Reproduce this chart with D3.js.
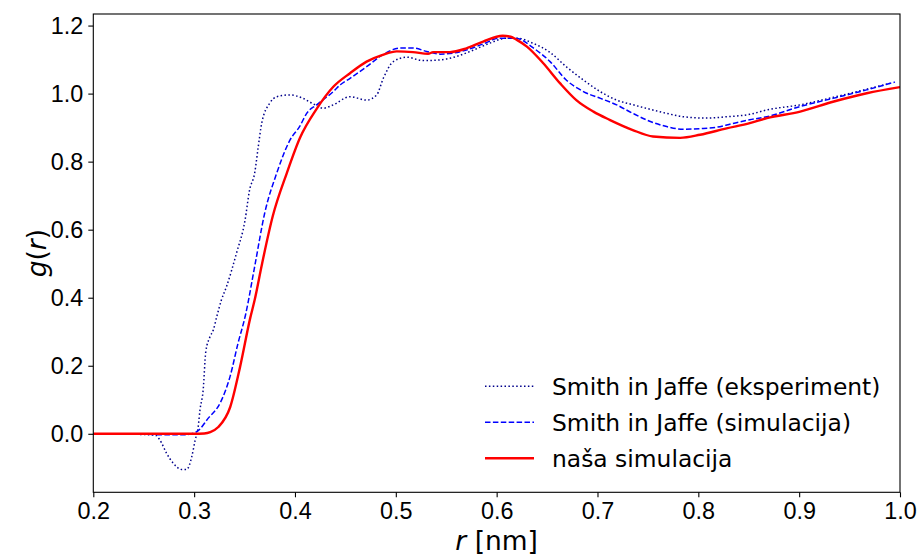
<!DOCTYPE html>
<html>
<head>
<meta charset="utf-8">
<script src="https://cdn.jsdelivr.net/npm/d3@7"></script>
<style>
  body { margin: 0; background: #fff; }
  svg { display: block; font-family: "DejaVu Sans", sans-serif; }
</style>
</head>
<body>
<div id="chart"></div>
<script>
// g(r) data
const xTicks = [0.2, 0.3, 0.4, 0.5, 0.6, 0.7, 0.8, 0.9, 1.0];
const yTicks = [0.0, 0.2, 0.4, 0.6, 0.8, 1.0, 1.2];

// Smith in Jaffe (eksperiment)
const expR = [0.2, 0.25, 0.262, 0.266, 0.2728, 0.2794, 0.2877, 0.2926, 0.2976, 0.301, 0.304, 0.3058, 0.309, 0.3115,
  0.3157, 0.319, 0.3224, 0.327, 0.332, 0.342, 0.3505, 0.355, 0.36, 0.3636, 0.367, 0.375, 0.382, 0.395, 0.408, 0.418,
  0.428, 0.438, 0.4546, 0.471, 0.481, 0.4876, 0.4975, 0.511, 0.527, 0.544, 0.56, 0.577, 0.593, 0.61, 0.62, 0.636,
  0.653, 0.669, 0.686, 0.7026, 0.719, 0.7355, 0.752, 0.7686, 0.785, 0.808, 0.828, 0.851, 0.868, 0.901, 0.9338, 0.967, 0.99];
const expG = [0, -0.002, -0.005, -0.018, -0.058, -0.087, -0.105, -0.105, -0.068, -0.019, 0.02, 0.07, 0.13, 0.24,
  0.285, 0.305, 0.344, 0.393, 0.432, 0.531, 0.628, 0.717, 0.766, 0.844, 0.913, 0.972, 0.991, 0.996, 0.986, 0.97,
  0.957, 0.967, 0.991, 0.981, 0.996, 1.045, 1.094, 1.107, 1.097, 1.099, 1.109, 1.128, 1.148, 1.163, 1.163, 1.148,
  1.121, 1.079, 1.04, 1.006, 0.981, 0.967, 0.954, 0.942, 0.932, 0.928, 0.932, 0.939, 0.952, 0.967, 0.989, 1.013, 1.03];

// Smith in Jaffe (simulacija)
const simR = [0.2, 0.24, 0.27, 0.29, 0.3025, 0.314, 0.3257, 0.3356, 0.3435, 0.351, 0.36, 0.37, 0.382, 0.395, 0.405,
  0.4116, 0.4215, 0.428, 0.438, 0.445, 0.4546, 0.471, 0.487, 0.504, 0.517, 0.5306, 0.544, 0.557, 0.57, 0.5866,
  0.603, 0.62, 0.636, 0.653, 0.669, 0.686, 0.703, 0.719, 0.735, 0.7524, 0.7686, 0.785, 0.8017, 0.818, 0.834,
  0.851, 0.868, 0.901, 0.9335, 0.967, 0.995];
const simG = [0, 0, -0.003, -0.003, 0.006, 0.046, 0.09, 0.168, 0.266, 0.35, 0.491, 0.649, 0.767, 0.863, 0.905,
  0.942, 0.967, 0.982, 1.006, 1.026, 1.045, 1.079, 1.114, 1.134, 1.134, 1.124, 1.116, 1.119, 1.128, 1.146,
  1.163, 1.162, 1.135, 1.094, 1.04, 1.006, 0.986, 0.967, 0.942, 0.918, 0.903, 0.895, 0.897, 0.901, 0.912,
  0.923, 0.932, 0.962, 0.986, 1.011, 1.034];

// naša simulacija
const nasR = [0.2, 0.25, 0.3, 0.31, 0.316, 0.324, 0.3357, 0.3455, 0.3556, 0.36, 0.367, 0.378, 0.392, 0.405, 0.4215,
  0.438, 0.4546, 0.471, 0.487, 0.501, 0.517, 0.532, 0.537, 0.5537, 0.57, 0.5866, 0.606, 0.613, 0.62, 0.63, 0.646,
  0.663, 0.679, 0.696, 0.712, 0.735, 0.755, 0.782, 0.8017, 0.828, 0.851, 0.868, 0.901, 0.9335, 0.967, 1.0];
const nasG = [0, 0, 0, 0.001, 0.005, 0.02, 0.078, 0.196, 0.34, 0.393, 0.495, 0.64, 0.767, 0.87, 0.955,
  1.02, 1.06, 1.094, 1.114, 1.124, 1.122, 1.117, 1.122, 1.122, 1.133, 1.153, 1.17, 1.168, 1.158, 1.138, 1.09,
  1.03, 0.981, 0.947, 0.923, 0.893, 0.874, 0.87, 0.879, 0.898, 0.913, 0.928, 0.947, 0.976, 1.001, 1.019];

const seriesNames = ['Smith in Jaffe (eksperiment)', 'Smith in Jaffe (simulacija)', 'naša simulacija'];

const series = [
  { name: seriesNames[0], r: expR, g: expG, color: '#00008b', width: 1.5, dash: '1.5,2.4' },
  { name: seriesNames[1], r: simR, g: simG, color: '#0000ff', width: 1.5, dash: '5.5,2.4' },
  { name: seriesNames[2], r: nasR, g: nasG, color: '#ff0000', width: 2.4, dash: null }
];

const margin = { top: 14, right: 18, bottom: 63.7, left: 93.3 };
const width = 918 - margin.left - margin.right;
const height = 556 - margin.top - margin.bottom;
const fontSize = '23.4px';

const svg = d3.select('#chart')
  .append('svg')
  .attr('width', 918)
  .attr('height', 556);

const g = svg.append('g')
  .attr('transform', `translate(${margin.left},${margin.top})`);

const x = d3.scaleLinear().domain([0.2, 1.0]).range([0, width]);
const y = d3.scaleLinear().domain([-0.172, 1.234]).range([height, 0]);

// clip lines to the axes area
g.append('clipPath').attr('id', 'clip')
  .append('rect').attr('width', width).attr('height', height);

const line = d3.line()
  .x(d => x(d[0]))
  .y(d => y(d[1]))
  .curve(d3.curveMonotoneX);

series.forEach(s => {
  g.append('path')
    .datum(s.r.map((r, i) => [r, s.g[i]]))
    .attr('clip-path', 'url(#clip)')
    .attr('fill', 'none')
    .attr('stroke', s.color)
    .attr('stroke-width', s.width)
    .attr('stroke-dasharray', s.dash)
    .attr('d', line);
});

// axes
const xAxis = g.append('g')
  .attr('transform', `translate(0,${height})`)
  .call(d3.axisBottom(x).tickValues(xTicks).tickFormat(d3.format('.1f')).tickSizeOuter(0).tickSize(5).tickPadding(5));

const yAxis = g.append('g')
  .call(d3.axisLeft(y).tickValues(yTicks).tickFormat(d3.format('.1f')).tickSizeOuter(0).tickSize(5).tickPadding(5));

[xAxis, yAxis].forEach(a => {
  a.select('.domain').remove();
  a.selectAll('line').attr('stroke', '#000').attr('stroke-width', 1.1);
  a.selectAll('text').attr('fill', '#000').style('font-size', fontSize);
});

// frame
g.append('rect')
  .attr('width', width)
  .attr('height', height)
  .attr('fill', 'none')
  .attr('stroke', '#000')
  .attr('stroke-width', 1.1);

// axis labels
const xLabel = svg.append('text')
  .attr('x', margin.left + width / 2)
  .attr('y', 550)
  .attr('text-anchor', 'middle')
  .style('font-size', '26.5px');
xLabel.append('tspan').style('font-style', 'italic').text('r');
xLabel.append('tspan').text(' [nm]');

const yLabel = svg.append('text')
  .attr('transform', `translate(46,${margin.top + height / 2}) rotate(-90)`)
  .attr('text-anchor', 'middle')
  .style('font-size', '26.5px');
yLabel.append('tspan').style('font-style', 'italic').text('g');
yLabel.append('tspan').text('(');
yLabel.append('tspan').style('font-style', 'italic').text('r');
yLabel.append('tspan').text(')');

// legend, lower right inside the axes
const legend = g.append('g')
  .attr('transform', `translate(${width - 415},${height - 106})`);

const item = legend.selectAll('.legend')
  .data(series)
  .enter().append('g')
  .attr('class', 'legend')
  .attr('transform', (d, i) => `translate(0,${i * 36})`);

item.append('line')
  .attr('x1', 0).attr('x2', 49)
  .attr('stroke', d => d.color)
  .attr('stroke-width', d => d.width)
  .attr('stroke-dasharray', d => d.dash);

item.append('text')
  .attr('x', 67)
  .attr('dy', '.35em')
  .style('font-size', fontSize)
  .text(d => d.name);
</script>
</body>
</html>
